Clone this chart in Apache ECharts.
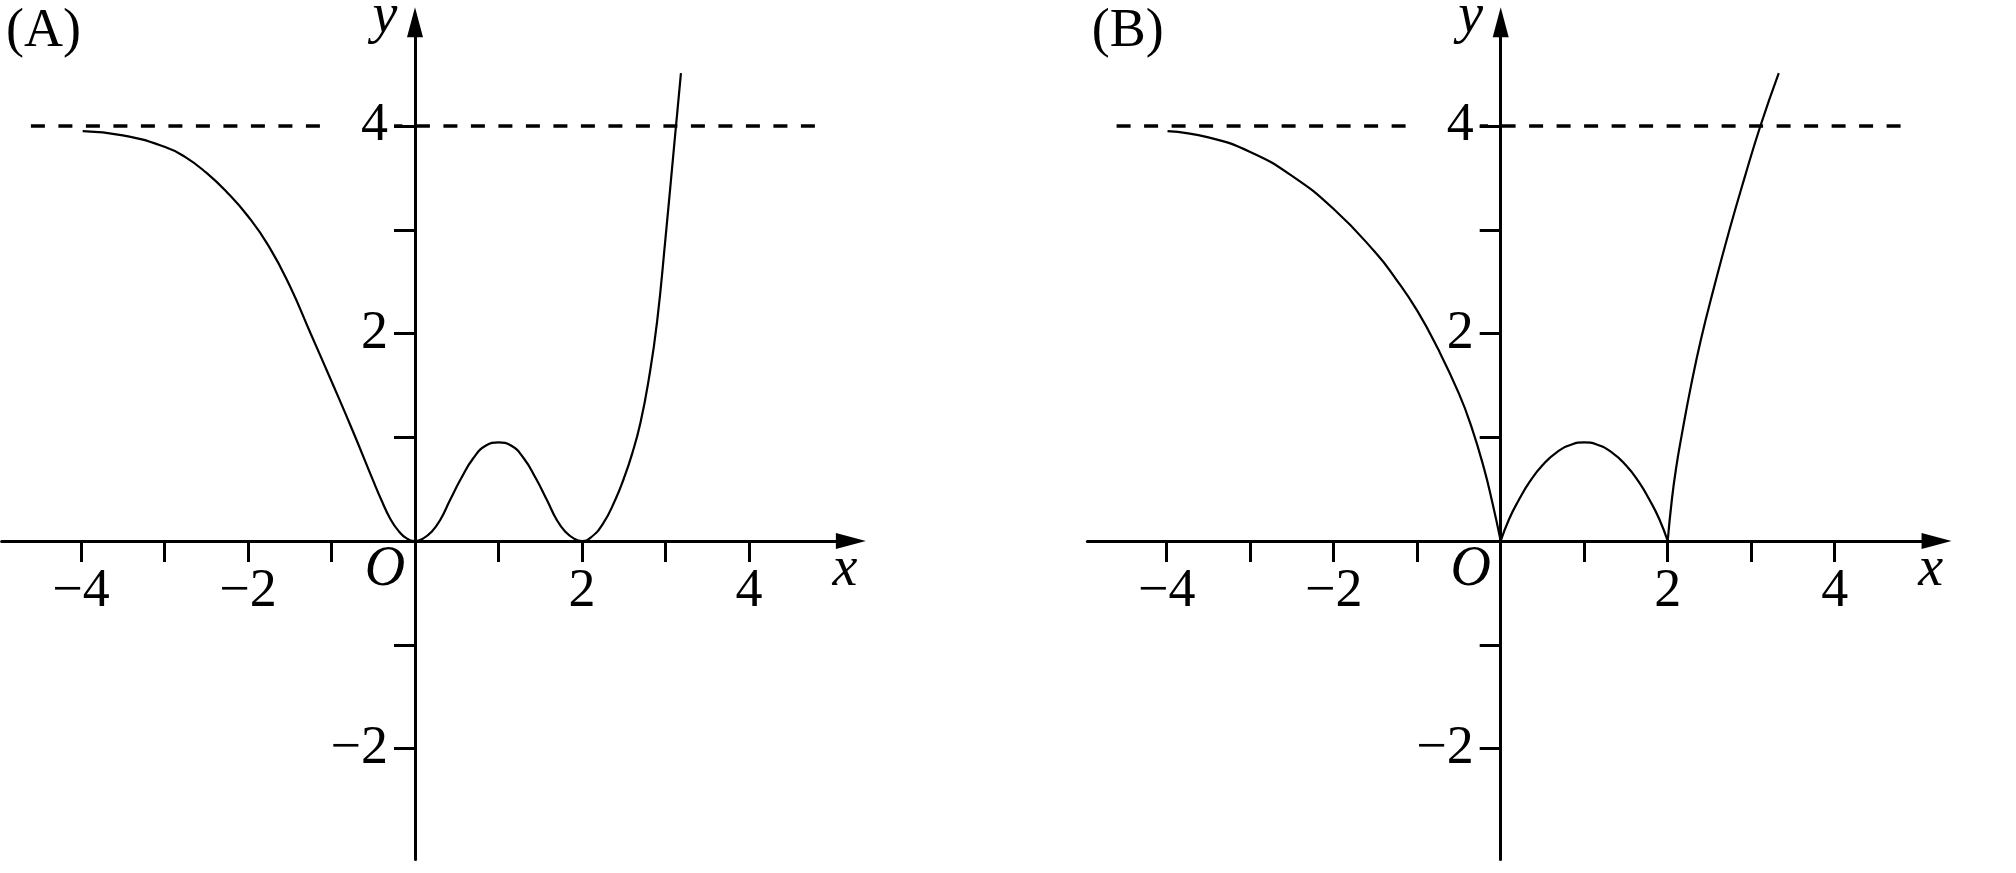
<!DOCTYPE html>
<html><head><meta charset="utf-8">
<script src="https://cdn.jsdelivr.net/npm/echarts@6/dist/echarts.min.js"></script>
<style>html,body{margin:0;padding:0;background:#fff}#c{width:2016px;height:873px}</style>
</head><body><div id="c"></div>
<script>
// ---- data ----
const xTickValues = [-4, -3, -2, -1, 1, 2, 3, 4];
const xLabelValues = [-4, -2, 2, 4];
const yTickValues = [-2, -1, 1, 2, 3, 4];
const yLabelValues = [-2, 2, 4];
const asymptoteY = 4;
const asymptoteX = [-4.6, 4.84];
const dashBreak = [-1.1, -0.25];
const panelTitles = ['(A)', '(B)'];

// Panel A curve (one smooth curve)
const curveA = [
  [-3.98, 3.95], [-3.5, 3.91], [-3.0, 3.80], [-2.75, 3.70], [-2.5, 3.55], [-2.25, 3.36],
  [-2.0, 3.13], [-1.75, 2.84], [-1.5, 2.46], [-1.25, 2.00], [-1.0, 1.54], [-0.75, 1.07],
  [-0.5, 0.58], [-0.4, 0.39], [-0.3, 0.22], [-0.2, 0.10], [-0.1, 0.025], [0, 0],
  [0.1, 0.025], [0.2, 0.09], [0.3, 0.20], [0.42, 0.395], [0.55, 0.60], [0.7, 0.80], [0.85, 0.92], [1, 0.95],
  [1.15, 0.92], [1.3, 0.80], [1.45, 0.60], [1.58, 0.395], [1.7, 0.20], [1.8, 0.09], [1.9, 0.025], [2, 0],
  [2.1, 0.03], [2.25, 0.165], [2.4, 0.40], [2.5, 0.60], [2.6, 0.84], [2.7, 1.14], [2.8, 1.56],
  [2.9, 2.12], [3.0, 2.92], [3.1, 3.78], [3.185, 4.51]
];
// Panel B curve pieces (cusps at 0 and 2)
const curveBLeft = [
  [-3.99, 3.95], [-3.5, 3.89], [-3.0, 3.75], [-2.5, 3.52], [-2.0, 3.20], [-1.5, 2.78],
  [-1.25, 2.52], [-1.0, 2.22], [-0.75, 1.85], [-0.5, 1.42], [-0.35, 1.10], [-0.2, 0.70],
  [-0.1, 0.37], [0, 0]
];
const curveBHump = [
  [0, 0], [0.1, 0.21], [0.22, 0.40], [0.35, 0.575], [0.5, 0.73], [0.67, 0.855], [0.85, 0.93], [1, 0.95],
  [1.15, 0.93], [1.33, 0.855], [1.5, 0.73], [1.65, 0.575], [1.78, 0.40], [1.9, 0.21], [2, 0]
];
const curveBRight = [
  [2, 0], [2.05, 0.40], [2.1, 0.70], [2.17, 1.03], [2.28, 1.50], [2.4, 1.95], [2.55, 2.43],
  [2.74, 3.0], [2.92, 3.5], [3.11, 4.0], [3.33, 4.51]
];

// ---- layout ----
const X_MIN = -4.95, X_MAX = 5.22, Y_MIN = -3.07, Y_MAX = 5.0;
const UX = 83.5, UY = 103.75;
const origins = [[415, 541], [1500.7, 541]];
const FONT = '"Liberation Serif", "Times New Roman", serif';
const DASH = [14, 13.5];
const LABEL_SIZE = 54;

const fmt = v => (v < 0 ? '\u2212' + Math.abs(v) : String(v));

const chart = echarts.init(document.getElementById('c'), null, {renderer: 'canvas'});

const grids = origins.map(o => ({
  left: o[0] + X_MIN * UX, top: o[1] - Y_MAX * UY,
  width: (X_MAX - X_MIN) * UX, height: (Y_MAX - Y_MIN) * UY,
  containLabel: false, outerBoundsMode: 'none'
}));

const axisLineStyle = {color: '#000', width: 3};
const xAxes = origins.map((o, i) => ({
  type: 'value', gridIndex: i, min: X_MIN, max: X_MAX,
  splitLine: {show: false},
  axisLine: {show: true, onZero: true, symbol: ['none', 'triangle'], symbolSize: [16, 30], lineStyle: axisLineStyle},
  axisTick: {show: true, customValues: xTickValues, length: 21, lineStyle: {color: '#000', width: 3}},
  axisLabel: {show: false}
}));
const yAxes = origins.map((o, i) => ({
  type: 'value', gridIndex: i, min: Y_MIN, max: Y_MAX,
  splitLine: {show: false},
  axisLine: {show: true, onZero: true, symbol: ['none', 'triangle'], symbolSize: [16, 30], lineStyle: axisLineStyle},
  axisTick: {show: true, customValues: yTickValues, length: 21, lineStyle: {color: '#000', width: 3}},
  axisLabel: {show: false}
}));

const curveStyle = {color: '#000', width: 2.2};
function curveSeries(data, i) {
  return {type: 'line', xAxisIndex: i, yAxisIndex: i, data: data, showSymbol: false, symbol: 'none',
    smooth: 0.5, lineStyle: curveStyle, silent: true, z: 3};
}
function dashSeries(i) {
  const offset2 = ((dashBreak[1] - asymptoteX[0]) * UX) % (DASH[0] + DASH[1]);
  return [
    {type: 'line', xAxisIndex: i, yAxisIndex: i, symbol: 'none', silent: true, z: 2,
     data: [[asymptoteX[0], asymptoteY], [dashBreak[0], asymptoteY]],
     lineStyle: {color: '#000', width: 3.5, type: DASH, dashOffset: 0}},
    {type: 'line', xAxisIndex: i, yAxisIndex: i, symbol: 'none', silent: true, z: 2,
     data: [[dashBreak[1], asymptoteY], [asymptoteX[1], asymptoteY]],
     lineStyle: {color: '#000', width: 3.5, type: DASH, dashOffset: offset2}}
  ];
}
function tickLabelSeries(i) {
  const base = {type: 'scatter', xAxisIndex: i, yAxisIndex: i, symbolSize: 0, silent: true, z: 4,
    itemStyle: {color: '#000', opacity: 1}};
  const lbl = {show: true, fontFamily: FONT, fontSize: LABEL_SIZE, color: '#000', opacity: 1, textBorderWidth: 0};
  return [
    Object.assign({}, base, {data: xLabelValues.map(v => [v, 0]),
      label: Object.assign({}, lbl, {position: 'bottom', distance: 24, formatter: p => fmt(p.value[0])})}),
    Object.assign({}, base, {data: yLabelValues.map(v => [0, v]),
      label: Object.assign({}, lbl, {position: 'left', distance: 27, formatter: p => fmt(p.value[1])})})
  ];
}

const series = [
  ...dashSeries(0), ...dashSeries(1),
  curveSeries(curveA, 0),
  curveSeries(curveBLeft, 1), curveSeries(curveBHump, 1), curveSeries(curveBRight, 1),
  ...tickLabelSeries(0), ...tickLabelSeries(1)
];

// text annotations
const graphic = [];
origins.forEach((o, i) => {
  const dx = o[0] - origins[0][0];
  graphic.push(
    {type: 'text', x: 6 + dx, y: 32, style: {text: panelTitles[i], font: '54px ' + FONT, fill: '#000', align: 'left', verticalAlign: 'middle'}},
    {type: 'text', x: 385 + dx, y: 570, style: {text: 'O', font: 'italic 56px ' + FONT, fill: '#000', align: 'center', verticalAlign: 'middle'}},
    {type: 'text', x: 845 + dx, y: 570, style: {text: 'x', font: 'italic 56px ' + FONT, fill: '#000', align: 'center', verticalAlign: 'middle'}},
    {type: 'text', x: 385 + dx, y: 17, style: {text: 'y', font: 'italic 56px ' + FONT, fill: '#000', align: 'center', verticalAlign: 'middle'}}
  );
});

chart.setOption({
  animation: false,
  backgroundColor: '#fff',
  grid: grids,
  xAxis: xAxes,
  yAxis: yAxes,
  series: series,
  graphic: graphic
});
</script>
</body></html>
